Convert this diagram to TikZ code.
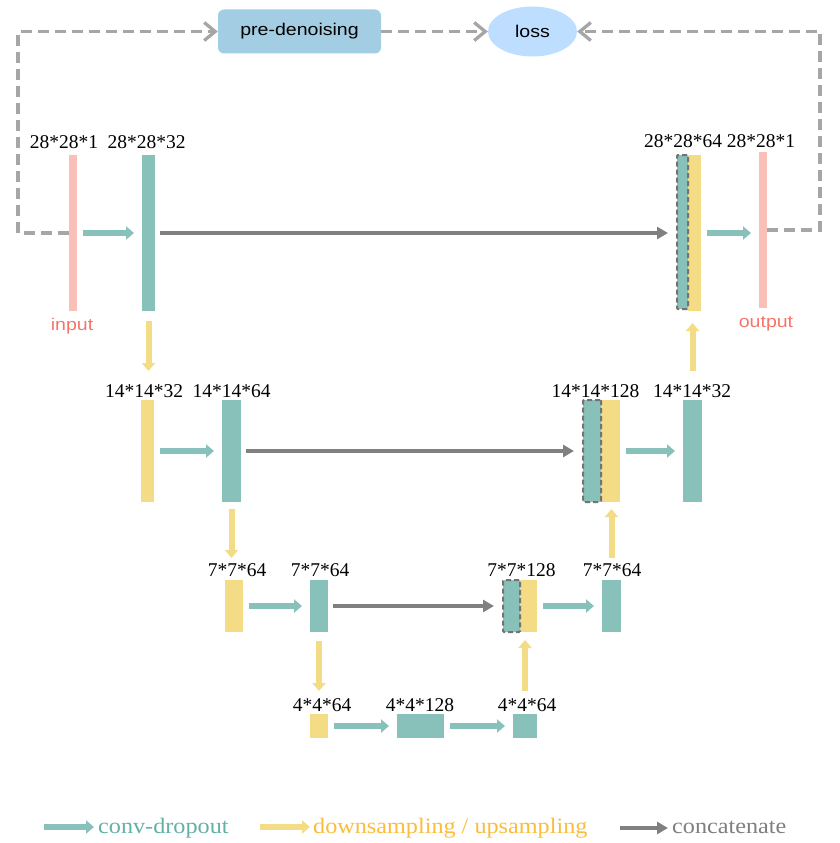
\documentclass[tikz,border=0pt]{standalone}
\usepackage{fontspec}
\setmainfont{Liberation Serif}
\newfontfamily\uifont[FakeStretch=1.15]{Liberation Sans}
\newfontfamily\legendfont[FakeStretch=1.1]{Liberation Serif}
\usetikzlibrary{arrows.meta,shapes.geometric}

\definecolor{convcol}{HTML}{87C1BA}
\definecolor{poolcol}{HTML}{F3DC85}
\definecolor{iocol}{HTML}{F9C0B7}
\definecolor{catcol}{HTML}{808080}
\definecolor{dashcol}{HTML}{737373}
\definecolor{loopcol}{HTML}{A6A6A6}
\definecolor{precol}{HTML}{A3CDE3}
\definecolor{losscol}{HTML}{BDDEFE}
\definecolor{iotext}{HTML}{F4766A}
\definecolor{convtext}{HTML}{62B0A6}
\definecolor{pooltext}{HTML}{FBBC3C}
\definecolor{cattext}{HTML}{7F7F7F}

\tikzset{
  bar size/.style 2 args={minimum width=#1, minimum height=#2},
  any bar/.style={inner sep=0pt, outer sep=0pt},
  conv bar/.style={any bar, fill=convcol},
  pool bar/.style={any bar, fill=poolcol},
  io bar/.style={any bar, fill=iocol},
  concat part/.style={any bar, fill=convcol, draw=dashcol, line width=2pt,
    dash pattern=on 5pt off 3pt, rounded corners=1pt},
  dim label/.style={inner sep=0pt, anchor=base, font=\fontsize{19.5}{22}\selectfont},
  io text/.style={inner sep=0pt, anchor=base, text=iotext, font=\uifont\fontsize{17}{20}\selectfont},
  legend text/.style={inner sep=0pt, anchor=base west, font=\legendfont\fontsize{22}{26}\selectfont},
  pre box/.style={fill=precol, rounded corners=6pt, inner sep=0pt,
    minimum width=163pt, minimum height=44pt, font=\uifont\fontsize{17}{20}\selectfont},
  loss box/.style={ellipse, fill=losscol, inner sep=0pt,
    minimum width=89pt, minimum height=50pt, font=\uifont\fontsize{17}{20}\selectfont},
  conv arrow/.style={draw=convcol, line width=6pt, -{Triangle[length=8pt,width=13pt]},
    shorten <=6pt, shorten >=8pt},
  sample arrow/.style={draw=poolcol, line width=6pt, -{Triangle[length=8pt,width=13pt]}},
  concat arrow/.style={draw=catcol, line width=3.3pt, -{Triangle[length=11pt,width=12pt]},
    shorten <=5pt, shorten >=9pt},
  loop line/.style={draw=loopcol, line width=3.3pt, dash pattern=on 11pt off 6pt,
    -{Straight Barb[length=11pt,width=18pt]}},
}

\begin{document}
\begin{tikzpicture}[x=1pt, y=-1pt]
\useasboundingbox (0,0) rectangle (839,843);

% top row
\node[pre box] (pre) at (299.5,31.5) {pre-denoising};
\node[loss box] (loss) at (532.5,31.5) {loss};

% level 1
\node[io bar, bar size={8pt}{156pt}] (in) at (73,233) {};
\node[conv bar, bar size={13pt}{156pt}] (c1) at (148.5,233) {};
\node[pool bar, bar size={13pt}{156pt}] (y1) at (694.5,233) {};
\node[concat part, bar size={11pt}{154pt}] (t1) at (682.5,232) {};
\node[io bar, bar size={8pt}{156pt}] (out) at (763,230) {};
\node[io text] (inlbl) at (72,330) {input};
\node[io text] (outlbl) at (766,327.5) {output};

% level 2
\node[pool bar, bar size={13pt}{102pt}] (p2) at (147.5,451) {};
\node[conv bar, bar size={19pt}{102pt}] (c2) at (231.5,451) {};
\node[pool bar, bar size={19pt}{102pt}] (y2) at (610.5,451) {};
\node[concat part, bar size={18pt}{102pt}] (t2) at (592,451) {};
\node[conv bar, bar size={19pt}{102pt}] (u2) at (692.5,451) {};

% level 3
\node[pool bar, bar size={18pt}{52pt}] (p3) at (234,606) {};
\node[conv bar, bar size={18pt}{52pt}] (c3) at (319,606) {};
\node[pool bar, bar size={17pt}{52pt}] (y3) at (528.5,606) {};
\node[concat part, bar size={17pt}{52pt}] (t3) at (511.5,606) {};
\node[conv bar, bar size={19pt}{52pt}] (u3) at (611.5,606) {};

% level 4
\node[pool bar, bar size={18pt}{24pt}] (p4) at (319,726) {};
\node[conv bar, bar size={47pt}{24pt}] (b4) at (420.5,726) {};
\node[conv bar, bar size={24pt}{24pt}] (u4) at (525,726) {};

% sizes
\foreach \x/\y/\txt [count=\i] in
  {64/148/28*28*1, 146.5/148/28*28*32, 683/147/28*28*64, 761/147/28*28*1,
   144/397/14*14*32, 231.5/397/14*14*64, 595.5/397/14*14*128, 692/397/14*14*32,
   237/576/7*7*64, 320/576/7*7*64, 521.5/576/7*7*128, 612/576/7*7*64,
   322/711/4*4*64, 420/711/4*4*128, 527/711/4*4*64}
  \node[dim label] (dim\i) at (\x,\y) {\txt};

% conv-dropout
\foreach \a/\b in {in/c1, y1/out, p2/c2, y2/u2, p3/c3, y3/u3, p4/b4, b4/u4}
  \draw[conv arrow] (\a.east) -- (\a.east -| \b.west);

% concatenate
\foreach \a/\b in {c1/t1, c2/t2, c3/t3}
  \draw[concat arrow] (\a.east) -- (\a.east -| \b.west);

% down / up sampling
\draw[sample arrow, shorten <=10pt, shorten >=29pt] (c1.south) -- (c1.south |- p2.north);
\draw[sample arrow, shorten <=7pt, shorten >=22pt] (c2.south) -- (c2.south |- p3.north);
\draw[sample arrow, shorten <=9pt, shorten >=23pt] (c3.south) -- (c3.south |- p4.north);
\draw[sample arrow, shorten <=29pt, shorten >=12pt] (u2.north) -- (u2.north |- y1.south);
\draw[sample arrow, shorten <=22pt, shorten >=7pt] (u3.north) -- (u3.north |- y2.south);
\draw[sample arrow, shorten <=23pt, shorten >=8pt] (u4.north) -- (u4.north |- y3.south);

% loss loop
\coordinate (lt) at (18,31.5);
\coordinate (rt) at (820,31.5);
\draw[loop line] (in.west) -- (in.west -| lt) -- (lt) -- (pre.west);
\draw[loop line] (pre.east) -- (loss.west);
\draw[loop line] (out.east) -- (out.east -| rt) -- (rt) -- (loss.east);

% legend
\node[legend text, text=convtext] (lconv) at (98,833) {conv-dropout};
\node[legend text, text=pooltext] (lsample) at (313,833) {downsampling / upsampling};
\node[legend text, text=cattext] (lcat) at (672,833) {concatenate};
\coordinate (lconv0) at (44,827);
\coordinate (lsample0) at (260,827);
\coordinate (lcat0) at (620,828);
\draw[conv arrow, line width=6pt, shorten <=0pt, shorten >=4pt] (lconv0) -- (lconv0 -| lconv.west);
\draw[sample arrow, line width=6pt, shorten >=3pt] (lsample0) -- (lsample0 -| lsample.west);
\draw[concat arrow, shorten <=0pt, shorten >=4pt] (lcat0) -- (lcat0 -| lcat.west);
\end{tikzpicture}
\end{document}
